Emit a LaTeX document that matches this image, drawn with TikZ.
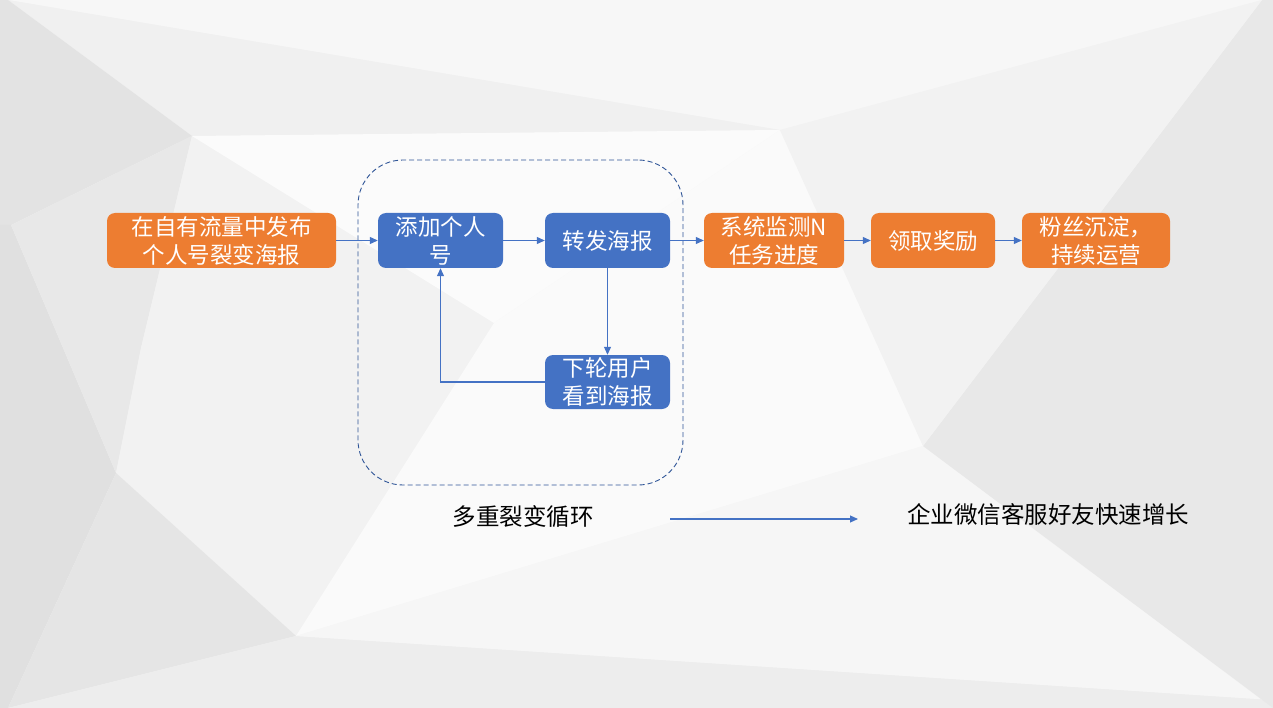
\documentclass[tikz,border=0pt]{standalone}
\usepackage{fontspec}
\setmainfont{Noto Sans CJK SC}
\usetikzlibrary{arrows.meta,positioning}
\definecolor{orng}{HTML}{ED7D31}
\definecolor{blu}{HTML}{4472C4}
\definecolor{dashblu}{HTML}{2F5597}
\tikzset{
  procbox/.style={rounded corners=8pt, inner sep=0pt, minimum height=55pt,
    text=white, align=center, font=\fontsize{22.5}{28}\selectfont},
  orangebox/.style={procbox, fill=orng},
  bluebox/.style={procbox, fill=blu},
  conn/.style={draw=blu, line width=1.1pt, -{Triangle[length=8pt,width=7pt]}},
  plainlabel/.style={text=black, font=\fontsize{23.5}{28}\selectfont, inner sep=0pt},
}
\begin{document}
\begin{tikzpicture}[x=1pt,y=-1pt]
\useasboundingbox (0,0) rectangle (1273,708);
% background low-poly
\fill[black!4] (0,0) rectangle (1273,708);
\fill[black!3] (8,0) -- (1262,0) -- (780,130) -- cycle;
\fill[black!6] (8,0) -- (780,130) -- (192,136) -- cycle;
\fill[black!11] (0,0) -- (8,0) -- (192,136) -- (11,225) -- (0,225) -- cycle;
\fill[black!12] (0,225) -- (11,225) -- (116,473) -- (8,708) -- (0,708) -- cycle;
\fill[black!9] (11,225) -- (192,136) -- (141,348) -- (116,473) -- cycle;
\fill[black!5] (192,136) -- (494,323) -- (296,636) -- (116,473) -- (141,348) -- cycle;
\fill[black!10] (116,473) -- (296,636) -- (8,708) -- cycle;
\fill[black!7] (8,708) -- (296,636) -- (1273,700) -- (1273,708) -- cycle;
\fill[black!1.5] (192,136) -- (780,130) -- (494,323) -- cycle;
\fill[black!2] (494,323) -- (780,130) -- (923,446) -- (296,636) -- cycle;
\fill[black!3.5] (296,636) -- (923,446) -- (1273,700) -- cycle;
\fill[black!9] (1262,0) -- (1273,0) -- (1273,708) -- (923,446) -- cycle;
\fill[black!5] (780,130) -- (1262,0) -- (923,446) -- cycle;

% dashed loop
\node[draw=dashblu, dashed, dash pattern=on 5pt off 3pt, line width=0.9pt,
  rounded corners=45pt, minimum width=325pt, minimum height=325pt, inner sep=0pt]
  (loop) at (520.5,322.5) {};

% boxes
\node[orangebox, minimum width=229pt] (b1) at (221.5,240.5) {在自有流量中发布\\个人号裂变海报};
\node[bluebox, minimum width=125pt] (b2) at (440.5,240.5) {添加个人\\号};
\node[bluebox, minimum width=125pt] (b3) at (607.5,240.5) {转发海报};
\node[orangebox, minimum width=140pt] (b4) at (774,240.5) {系统监测N\\任务进度};
\node[orangebox, minimum width=124pt] (b5) at (933,240.5) {领取奖励};
\node[orangebox, minimum width=148pt] (b6) at (1096,240.5) {粉丝沉淀，\\持续运营};
\node[bluebox, minimum width=125pt, minimum height=54pt] (b7) at (607.5,382) {下轮用户\\看到海报};

% connectors
\draw[conn] (b1) -- (b2);
\draw[conn] (b2) -- (b3);
\draw[conn] (b3) -- (b4);
\draw[conn] (b4) -- (b5);
\draw[conn] (b5) -- (b6);
\draw[conn] (b3) -- (b7);
\draw[conn] (b7.west) -| (b2.south);

% bottom labels
\node[plainlabel] (lbl1) at (523,517) {多重裂变循环};
\node[plainlabel] (lbl2) at (1048,515) {企业微信客服好友快速增长};
\coordinate (a1) at (670,519);
\coordinate (a2) at (858,519);
\draw[conn] (a1) -- (a2);
\end{tikzpicture}
\end{document}
